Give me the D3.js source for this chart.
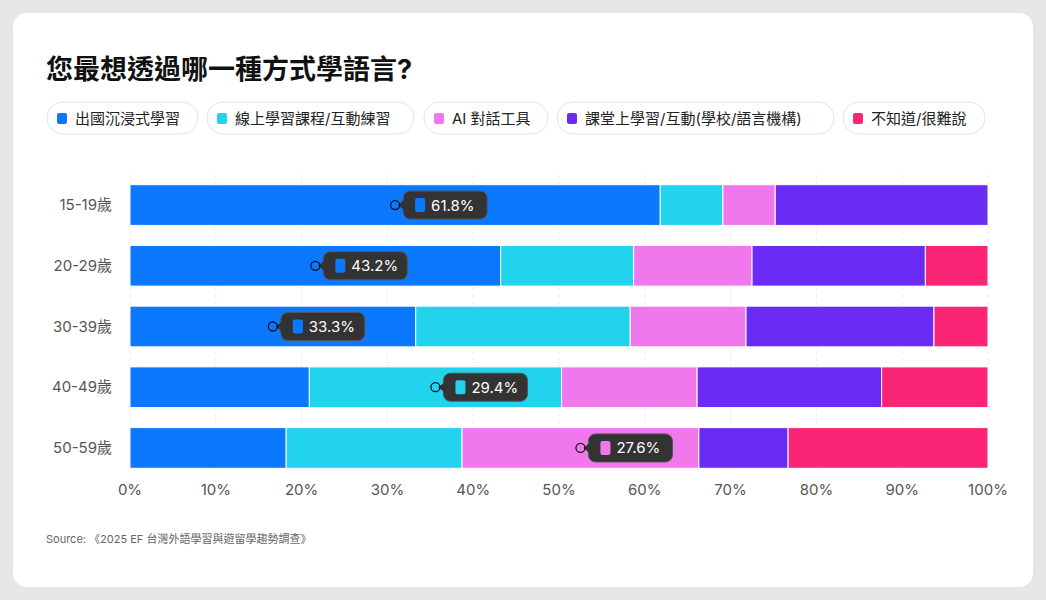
<!DOCTYPE html>
<html>
<head>
<meta charset="UTF-8">
<script src="https://cdn.jsdelivr.net/npm/d3@7"></script>
<style>
  body { margin: 0; background: #e6e6e6; font-family: Inter, "Noto Sans CJK TC", sans-serif; }
</style>
</head>
<body>
<svg id="chart" width="1046" height="600"></svg>
<script>
// data
var ageGroups = ["15-19歲", "20-29歲", "30-39歲", "40-49歲", "50-59歲"];
var seriesNames = ["出國沉浸式學習", "線上學習課程/互動練習", "AI 對話工具", "課堂上學習/互動(學校/語言機構)", "不知道/很難說"];
var seriesColors = ["#0a78ff", "#22d3ee", "#f178ec", "#6a2cf5", "#fb2576"];
var abroad   = [61.8, 43.2, 33.3, 20.9, 18.2];
var online   = [7.3, 15.5, 25.0, 29.4, 20.5];
var aiTools  = [6.1, 13.8, 13.5, 15.8, 27.6];
var classroom= [24.8, 20.2, 21.9, 21.5, 10.4];
var unsure   = [0, 7.3, 6.3, 12.4, 23.3];
var xTicks = [0, 10, 20, 30, 40, 50, 60, 70, 80, 90, 100];
// which series gets the tooltip for each row
var highlight = [0, 0, 0, 1, 2];

var svg = d3.select("#chart");
svg.append("rect").attr("x", 13).attr("y", 13).attr("width", 1020).attr("height", 574)
    .attr("rx", 14).attr("fill", "#fff");

svg.append("text").attr("x", 46).attr("y", 79).text("您最想透過哪一種方式學語言?")
    .attr("font-size", 27).attr("font-weight", 700).attr("fill", "#111");

// legend pills
var pillX = [47, 207, 424, 557, 843];
var pillW = [151, 207, 124, 277, 142];
seriesNames.forEach(function (name, i) {
    var g = svg.append("g").attr("transform", "translate(" + pillX[i] + ",102)");
    g.append("rect").attr("width", pillW[i]).attr("height", 32).attr("rx", 16)
        .attr("fill", "#fff").attr("stroke", "#e3e3e3");
    g.append("rect").attr("x", 10).attr("y", 11).attr("width", 10).attr("height", 11).attr("rx", 2)
        .attr("fill", seriesColors[i]);
    g.append("text").attr("x", 28).attr("y", 21.5).text(name)
        .attr("font-size", 15).attr("fill", "#222");
});

var x = d3.scaleLinear().domain([0, 100]).range([130, 988]);
var y = d3.scaleBand().domain(ageGroups).range([175, 478]).paddingInner(0.33).paddingOuter(0.16);

// gridlines
svg.append("g").selectAll("line").data(xTicks).enter().append("line")
    .attr("x1", function (d) { return x(d); }).attr("x2", function (d) { return x(d); })
    .attr("y1", 175).attr("y2", 470)
    .attr("stroke", "#ececec").attr("stroke-dasharray", "4,3");

var stackData = ageGroups.map(function (a, i) {
    return { age: a, s0: abroad[i], s1: online[i], s2: aiTools[i], s3: classroom[i], s4: unsure[i] };
});
var stacked = d3.stack().keys(["s0", "s1", "s2", "s3", "s4"])(stackData);

stacked.forEach(function (layer, k) {
    svg.append("g").selectAll("rect").data(layer).enter().append("rect")
        .attr("x", function (d) { return x(d[0]); })
        .attr("width", function (d) { return x(d[1]) - x(d[0]); })
        .attr("y", function (d) { return y(d.data.age); })
        .attr("height", y.bandwidth())
        .attr("fill", seriesColors[k])
        .attr("stroke", "#fff").attr("stroke-width", 1);
});
// rounded ends on the right
svg.append("g").selectAll("rect").data(stackData).enter().append("rect")
    .attr("x", x(100) - 6).attr("width", 6)
    .attr("y", function (d) { return y(d.age); }).attr("height", y.bandwidth())
    .attr("fill", "none");

// y axis labels
svg.append("g").selectAll("text").data(ageGroups).enter().append("text")
    .attr("x", 112).attr("y", function (d) { return y(d) + y.bandwidth() / 2 + 5; })
    .attr("text-anchor", "end").attr("font-size", 15).attr("fill", "#555").text(function (d) { return d; });

// x axis labels
svg.append("g").selectAll("text").data(xTicks).enter().append("text")
    .attr("x", function (d) { return x(d); }).attr("y", 495)
    .attr("text-anchor", "middle").attr("font-size", 15).attr("fill", "#555")
    .text(function (d) { return d + "%"; });

// tooltips
ageGroups.forEach(function (a, i) {
    var layer = stacked[highlight[i]][i];
    var cx = x((layer[0] + layer[1]) / 2);
    var cy = y(a) + y.bandwidth() / 2;
    var g = svg.append("g").attr("transform", "translate(" + cx + "," + cy + ")");
    g.append("rect").attr("x", 8).attr("y", -14).attr("width", 84).attr("height", 28).attr("rx", 7)
        .attr("fill", "#333").attr("stroke", "#555");
    g.append("path").attr("d", "M3,0 L9,-5 L9,5 Z").attr("fill", "#333");
    g.append("circle").attr("r", 4.5).attr("fill", "none").attr("stroke", "#111").attr("stroke-width", 1.3);
    g.append("rect").attr("x", 20).attr("y", -7).attr("width", 10).attr("height", 14).attr("rx", 2)
        .attr("fill", seriesColors[highlight[i]]);
    var v = [abroad, online, aiTools][highlight[i]][i];
    g.append("text").attr("x", 36).attr("y", 5.5).attr("font-size", 15).attr("fill", "#fff")
        .text(v.toFixed(1) + "%");
});

svg.append("text").attr("x", 46).attr("y", 543).attr("font-size", 11).attr("fill", "#666")
    .text("Source: 《2025 EF 台灣外語學習與遊留學趨勢調查》");
</script>
</body>
</html>
